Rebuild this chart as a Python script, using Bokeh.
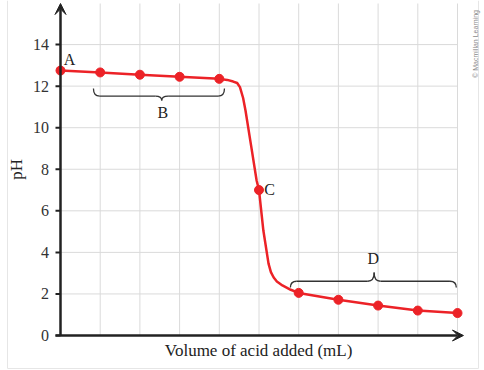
import math
from bokeh.plotting import figure
from bokeh.models import Label, LabelSet, Arrow, VeeHead, Range1d, ColumnDataSource
from bokeh.embed import file_html
from bokeh.resources import INLINE

# ---------------- data ----------------
volume = [0, 1, 2, 3, 4, 5, 6, 7, 8, 9, 10]
ph_points = [12.75, 12.66, 12.55, 12.45, 12.35, 7.0, 2.05, 1.72, 1.44, 1.2, 1.08]

curve_volume = [0, 1, 2, 3, 4, 4.2, 4.35, 4.45, 4.52, 4.6, 4.66, 4.8, 4.94, 5.0,
                5.11, 5.24, 5.3, 5.37, 5.45, 5.59, 5.8, 6, 7, 8, 9, 10]
curve_ph = [12.75, 12.66, 12.55, 12.45, 12.35, 12.3, 12.22, 12.15, 11.95, 11.43, 10.83,
            9.15, 7.46, 7.0, 5.05, 3.46, 3.05, 2.79, 2.6, 2.41, 2.2, 2.05, 1.72, 1.44, 1.2, 1.08]

y_ticks = [0, 2, 4, 6, 8, 10, 12, 14]
y_tick_labels = ["0", "2", "4", "6", "8", "10", "12", "14"]
x_grid = [1, 2, 3, 4, 5, 6, 7, 8, 9, 10]

region_labels = ["A", "B", "C", "D"]
x_title = "Volume of acid added (mL)"
y_title = "pH"
credit = "\u00a9 Macmillan Learning"

# ---------------- styling ----------------
RED = "#ec2227"
INK = "#222222"
GRID = "#dadada"
SERIF = "Liberation Serif"

W, H = 484, 370
PX_X, PX_Y = 39.7, 20.78          # pixels per data unit
ORG_X, ORG_Y = 60, 335            # pixel position of data origin
X0, X1 = -ORG_X / PX_X, (W - ORG_X) / PX_X
Y0, Y1 = -(H - ORG_Y) / PX_Y, ORG_Y / PX_Y
Y_TOP = (ORG_Y - 3) / PX_Y
X_LEFT = (55 - ORG_X) / PX_X

p = figure(width=W, height=H, output_backend="svg", toolbar_location=None,
           x_range=Range1d(X0, X1), y_range=Range1d(Y0, Y1),
           x_axis_location=None, y_axis_location=None,
           min_border_left=0, min_border_right=0, min_border_top=0, min_border_bottom=0)
p.outline_line_color = None
p.grid.visible = False
p.background_fill_color = "white"
p.border_fill_color = "white"

# faint outer border
bx0, bx1, by0 = (7 - ORG_X) / PX_X, (478 - ORG_X) / PX_X, (ORG_Y - 368) / PX_Y
p.segment(x0=[bx0, bx0, bx1], y0=[by0, by0, by0], x1=[bx1, bx0, bx1], y1=[by0, Y1, Y1],
          line_color="#e6e6e6", line_width=1)

# grid lines
p.segment(x0=x_grid, y0=[0] * len(x_grid), x1=x_grid, y1=[Y_TOP] * len(x_grid),
          line_color=GRID, line_width=1)
hy = [t for t in y_ticks if t > 0]
p.segment(x0=[0] * len(hy), y0=hy, x1=[x_grid[-1]] * len(hy), y1=hy,
          line_color=GRID, line_width=1)

# y ticks and tick labels
p.segment(x0=[X_LEFT] * len(y_ticks), y0=y_ticks, x1=[0] * len(y_ticks), y1=y_ticks,
          line_color=INK, line_width=2)
tick_src = ColumnDataSource(dict(x=[(48.5 - ORG_X) / PX_X] * len(y_ticks), y=y_ticks,
                                 text=y_tick_labels))
p.add_layout(LabelSet(x="x", y="y", text="text", source=tick_src,
                      text_font=SERIF, text_font_size="16px", text_color="#333333",
                      text_align="right", text_baseline="middle"))

# axes with arrow heads
p.add_layout(Arrow(x_start=X_LEFT, y_start=0, x_end=10.15, y_end=0,
                   line_color=INK, line_width=2.5,
                   end=VeeHead(size=11, fill_color=INK, line_color=INK)))
p.add_layout(Arrow(x_start=0, y_start=0, x_end=0, y_end=Y_TOP,
                   line_color=INK, line_width=2.5,
                   end=VeeHead(size=11, fill_color=INK, line_color=INK)))

# titration curve and points
p.line(curve_volume, curve_ph, line_color=RED, line_width=2.5, line_join="round")
p.scatter(volume, ph_points, size=9, fill_color=RED, line_color=RED)


# braces
def brace(xa, xb, xm, ye, yb, yt, r=0.16):
    q = dict(x0=[], y0=[], x1=[], y1=[], cx=[], cy=[])
    for (a, b, c) in [((xa, ye), (xa + r, yb), (xa, yb)),
                      ((xm - r, yb), (xm, yt), (xm, yb)),
                      ((xm, yt), (xm + r, yb), (xm, yb)),
                      ((xb - r, yb), (xb, ye), (xb, yb))]:
        q["x0"].append(a[0]); q["y0"].append(a[1])
        q["x1"].append(b[0]); q["y1"].append(b[1])
        q["cx"].append(c[0]); q["cy"].append(c[1])
    p.quadratic(line_color="#333333", line_width=1.3, **q)
    p.segment(x0=[xa + r, xm + r], y0=[yb, yb], x1=[xm - r, xb - r], y1=[yb, yb],
              line_color="#333333", line_width=1.3)


brace(0.83, 4.13, 2.55, 11.89, 11.52, 11.31)
brace(5.79, 9.97, 7.9, 2.31, 2.61, 3.03)

lab = dict(text_font=SERIF, text_font_size="16px", text_color=INK, text_baseline="middle")
p.add_layout(Label(x=0.08, y=13.3, text=region_labels[0], text_align="left", **lab))
p.add_layout(Label(x=2.58, y=10.75, text=region_labels[1], text_align="center", **lab))
p.add_layout(Label(x=5.13, y=7.03, text=region_labels[2], text_align="left", **lab))
p.add_layout(Label(x=7.88, y=3.69, text=region_labels[3], text_align="center", **lab))

lab17 = dict(lab, text_font_size="17px")
p.add_layout(Label(x=4.99, y=-0.72, text=x_title, text_align="center", **lab17))
p.add_layout(Label(x=-1.12, y=8.0, text=y_title, text_align="center", angle=math.pi / 2, **lab17))
p.add_layout(Label(x=10.45, y=14.03, text=credit, text_align="center", text_baseline="middle",
                   angle=math.pi / 2, text_font="Liberation Sans",
                   text_font_size="7px", text_color="#8a8a8a"))

open("out.html", "w").write(file_html(p, INLINE))
